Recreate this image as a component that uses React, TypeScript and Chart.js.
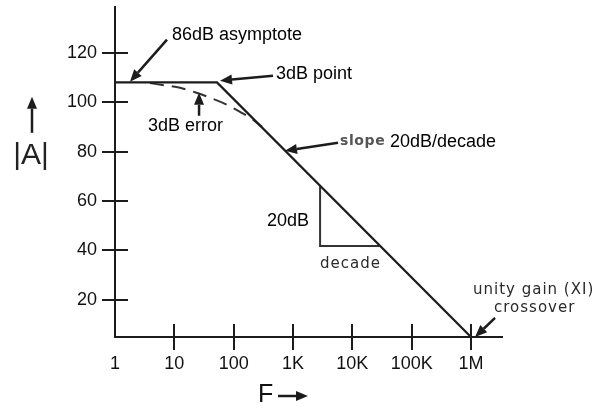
import React, { useEffect, useRef } from "react";
import { Chart, registerables } from "chart.js";

Chart.register(...registerables);

// ---- data ----
const xTickValues = [1, 10, 100, 1000, 10000, 100000, 1000000];
const xTickLabels = ["1", "10", "100", "1K", "10K", "100K", "1M"];
const yTickValues = [20, 40, 60, 80, 100, 120];

const asymptoteFreq = [1, 52.4, 1000000];
const asymptoteGain = [108, 108, 5];

const errorFreq = [3.89, 6.96, 12.5, 22.3, 39.9, 71.5, 128, 204, 301];
const errorGain = [107.7, 106.8, 105.8, 104.0, 101.8, 99.3, 96.1, 93.2, 90.0];

const triangleFreq = [2860, 2860, 28600];
const triangleGain = [66, 41.8, 41.8];

// ---- annotation anchors (data space: Hz, dB) ----
const notes = [
  { text: "86dB asymptote", f: 9.14, g: 127.3, kind: "print" },
  { text: "3dB point", f: 517, g: 111.5, kind: "print" },
  { text: "3dB error", f: 3.6, g: 90.4, kind: "print" },
  { text: "slope", f: 6200, g: 84, kind: "bold" },
  { text: "20dB/decade", f: 43100, g: 84, kind: "print" },
  { text: "20dB", f: 365, g: 52, kind: "print" },
  { text: "decade", f: 2852, g: 34.6, kind: "letter" },
  { text: "unity gain (XI)", f: 1.08e6, g: 24.0, kind: "letter" },
  { text: "crossover", f: 2.44e6, g: 16.8, kind: "letter" },
];

const arrows = [
  { from: [7.52, 125.3], to: [1.79, 108.3] },
  { from: [460, 110.7], to: [58.9, 108.7] },
  { from: [26.1, 94.5], to: [26.1, 103.8] },
  { from: [5740, 83.6], to: [733, 80.3] },
  { from: [2.54e6, 12.7], to: [1.17e6, 5.0] },
];

const ink = "#1c1c1c";

const styles: Record<string, { font: string; color: string; spacing: string }> = {
  print: { font: "18px 'Liberation Sans', Arial, sans-serif", color: "#000", spacing: "0px" },
  bold: { font: "bold 14px 'DejaVu Sans', sans-serif", color: "#555", spacing: "0.6px" },
  letter: { font: "15px 'DejaVu Sans', sans-serif", color: "#2a2a2a", spacing: "1px" },
};

function drawArrow(ctx: CanvasRenderingContext2D, x1: number, y1: number, x2: number, y2: number) {
  const ang = Math.atan2(y2 - y1, x2 - x1);
  const head = 12;
  const half = 5;
  const bx = x2 - head * Math.cos(ang);
  const by = y2 - head * Math.sin(ang);
  ctx.beginPath();
  ctx.moveTo(x1, y1);
  ctx.lineTo(bx, by);
  ctx.stroke();
  ctx.beginPath();
  ctx.moveTo(x2, y2);
  ctx.lineTo(bx + half * Math.sin(ang), by - half * Math.cos(ang));
  ctx.lineTo(bx - half * Math.sin(ang), by + half * Math.cos(ang));
  ctx.closePath();
  ctx.fill();
}

const bodePlugin = {
  id: "bodeDecor",
  afterDraw(chart: any) {
    const { ctx, chartArea } = chart;
    const xs = chart.scales.x;
    const ys = chart.scales.y;
    const px = (v: number) => xs.getPixelForValue(v);
    const py = (v: number) => ys.getPixelForValue(v);
    ctx.save();
    ctx.strokeStyle = ink;
    ctx.fillStyle = ink;
    ctx.lineWidth = 2;
    // crossing tick marks
    yTickValues.forEach((v) => {
      const y = Math.round(py(v));
      ctx.beginPath();
      ctx.moveTo(chartArea.left - 13, y);
      ctx.lineTo(chartArea.left + 13, y);
      ctx.stroke();
    });
    xTickValues.forEach((v) => {
      if (v <= xs.min) return;
      const x = Math.round(px(v));
      ctx.beginPath();
      ctx.moveTo(x, chartArea.bottom - 13);
      ctx.lineTo(x, chartArea.bottom + 13);
      ctx.stroke();
    });
    // arrows
    ctx.lineWidth = 2.5;
    arrows.forEach((a) => {
      drawArrow(ctx, px(a.from[0]), py(a.from[1]), px(a.to[0]), py(a.to[1]));
    });
    // notes
    ctx.textAlign = "left";
    ctx.textBaseline = "middle";
    notes.forEach((n) => {
      const s = styles[n.kind];
      ctx.font = s.font;
      ctx.fillStyle = s.color;
      (ctx as any).letterSpacing = s.spacing;
      ctx.fillText(n.text, px(n.f), py(n.g));
    });
    (ctx as any).letterSpacing = "0px";
    // y axis title |A| with arrow
    ctx.fillStyle = "#222";
    ctx.font = "30px 'Liberation Sans', Arial, sans-serif";
    ctx.textAlign = "center";
    const yx = chartArea.left - 84;
    ctx.fillText("|A|", yx, py(78.3));
    ctx.lineWidth = 2.5;
    ctx.fillStyle = ink;
    drawArrow(ctx, yx + 1, py(87.6), yx + 1, py(102.2));
    // x axis title F ->
    ctx.fillStyle = "#111";
    ctx.font = "25px 'Liberation Sans', Arial, sans-serif";
    ctx.textAlign = "left";
    const fx = px(257);
    ctx.fillText("F", fx, chartArea.bottom + 58);
    ctx.fillStyle = ink;
    drawArrow(ctx, fx + 20, chartArea.bottom + 59, fx + 50, chartArea.bottom + 59);
    ctx.restore();
  },
};

export default function App() {
  const ref = useRef<HTMLCanvasElement>(null);
  useEffect(() => {
    const tickFont = { size: 18, family: "'Liberation Sans', Arial, sans-serif" };
    const chart = new Chart(ref.current!, {
      type: "line",
      data: {
        datasets: [
          {
            data: asymptoteFreq.map((f, i) => ({ x: f, y: asymptoteGain[i] })),
            borderColor: ink,
            borderWidth: 2.2,
            pointRadius: 0,
            tension: 0,
          },
          {
            data: errorFreq.map((f, i) => ({ x: f, y: errorGain[i] })),
            borderColor: "#333",
            borderWidth: 2,
            borderDash: [14, 8],
            pointRadius: 0,
            cubicInterpolationMode: "monotone",
          },
          {
            data: triangleFreq.map((f, i) => ({ x: f, y: triangleGain[i] })),
            borderColor: "#333",
            borderWidth: 2,
            pointRadius: 0,
            tension: 0,
          },
        ],
      },
      options: {
        responsive: false,
        animation: false,
        devicePixelRatio: 1,
        layout: { padding: { left: 0, top: 7, right: 97, bottom: 0 } },
        plugins: { legend: { display: false }, tooltip: { enabled: false } },
        scales: {
          x: {
            type: "logarithmic",
            position: "bottom",
            min: 1,
            max: 3.33e6,
            grid: { display: false, drawTicks: false },
            border: { display: true, color: ink, width: 2 },
            ticks: {
              autoSkip: false,
              maxRotation: 0,
              minRotation: 0,
              padding: 16,
              color: "#111",
              font: tickFont,
              callback: (_v: any, i: number) => xTickLabels[i],
            },
            afterBuildTicks: (scale: any) => {
              scale.ticks = xTickValues.map((v) => ({ value: v }));
            },
            afterFit: (scale: any) => {
              scale.height = 70;
              scale.paddingLeft = 0;
              scale.paddingRight = 0;
            },
          },
          y: {
            type: "linear",
            min: 5,
            max: 138.5,
            grid: { display: false, drawTicks: false },
            border: { display: true, color: ink, width: 2 },
            ticks: {
              padding: 18,
              color: "#111",
              font: tickFont,
            },
            afterBuildTicks: (scale: any) => {
              scale.ticks = yTickValues.map((v) => ({ value: v }));
            },
            afterFit: (scale: any) => {
              scale.width = 115;
              scale.paddingTop = 0;
              scale.paddingBottom = 0;
            },
          },
        },
      },
      plugins: [bodePlugin],
    } as any);
    return () => chart.destroy();
  }, []);
  return (
    <div style={{ position: "fixed", left: 0, top: 0, width: 599, height: 407, background: "#fff" }}>
      <canvas ref={ref} width={599} height={407} style={{ display: "block" }} />
    </div>
  );
}
